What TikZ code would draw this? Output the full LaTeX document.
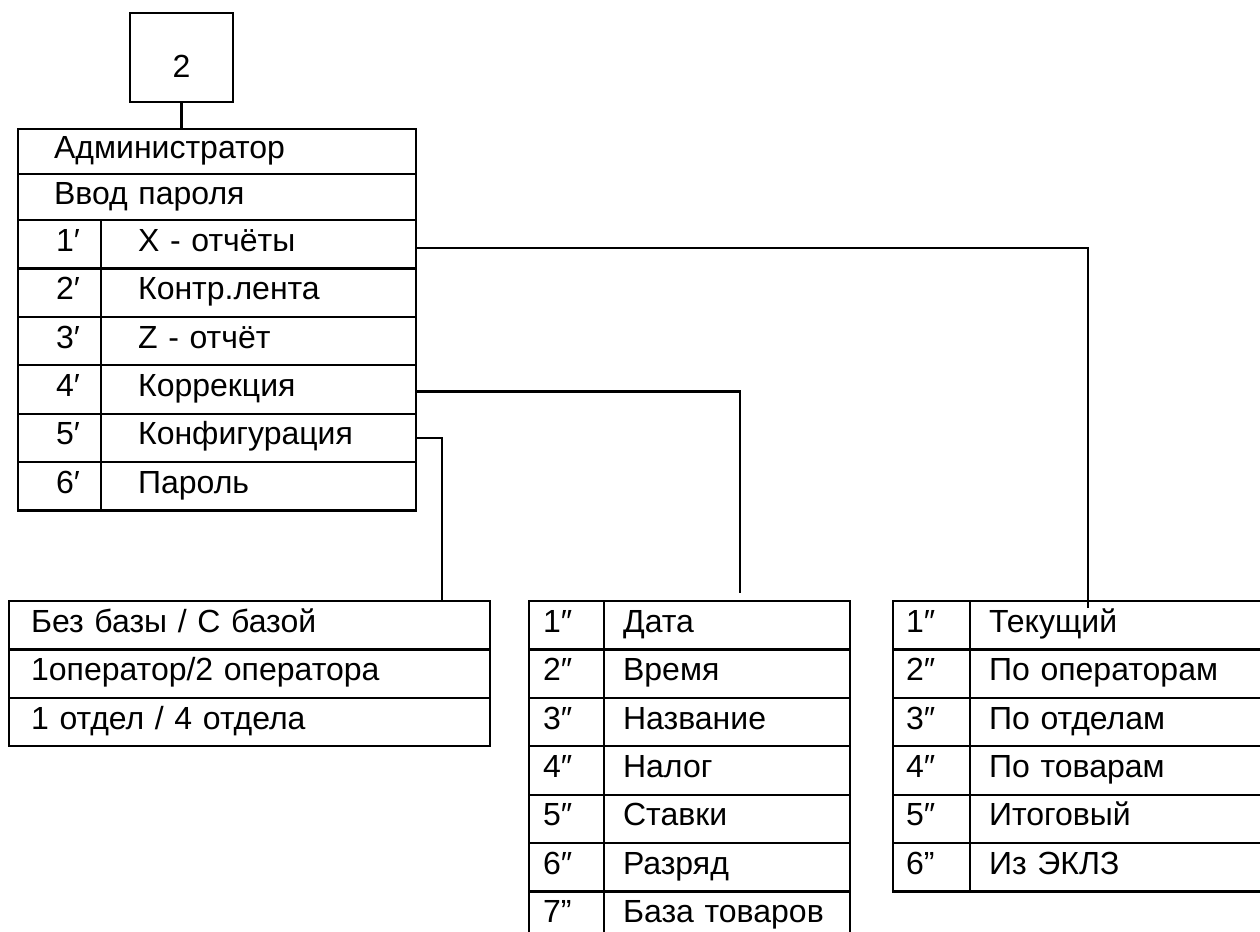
\documentclass[tikz,border=0pt]{standalone}
\usepackage{fontspec}
\setmainfont{Liberation Sans}

\begin{document}
\begin{tikzpicture}
	[x=0.5pt, y=-0.5pt, line width=1.1pt,
	 every node/.style={font=\fontsize{16pt}{18pt}\selectfont},
	 cell/.style 2 args={draw, anchor=north west, inner xsep=0pt, inner ysep=0pt,
	   text width=#1, align=left, minimum height=24.2pt,
	   text height=11pt, text depth=4pt, execute at begin node={\hspace*{#2}}}]
	\useasboundingbox (0,0) rectangle (1260,932);
	\clip (0,0) rectangle (1260,932);
	% Режим администратора
	\node[draw, minimum width=51.5pt, minimum height=44.5pt, inner sep=0pt, text height=21pt, text depth=1.5pt] (box2) at (181.5,57.5) {2};
	\node[cell={199pt}{18pt}, minimum height=22.5pt] (adm1) at (17,128) {Администратор};
	\node[cell={199pt}{18pt}, minimum height=23pt] (adm2) at (17,173) {Ввод пароля};
	\node[cell={41.5pt}{19pt}] (adm3n) at (17,219) {1′};
	\node[cell={157.5pt}{18.5pt}] (adm3t) at (100,219) {X - отчёты};
	\node[cell={41.5pt}{19pt}] (adm4n) at (17,267.4) {2′};
	\node[cell={157.5pt}{18.5pt}] (adm4t) at (100,267.4) {Контр.лента};
	\node[cell={41.5pt}{19pt}] (adm5n) at (17,315.8) {3′};
	\node[cell={157.5pt}{18.5pt}] (adm5t) at (100,315.8) {Z - отчёт};
	\node[cell={41.5pt}{19pt}] (adm6n) at (17,364.2) {4′};
	\node[cell={157.5pt}{18.5pt}] (adm6t) at (100,364.2) {Коррекция};
	\node[cell={41.5pt}{19pt}] (adm7n) at (17,412.6) {5′};
	\node[cell={157.5pt}{18.5pt}] (adm7t) at (100,412.6) {Конфигурация};
	\node[cell={41.5pt}{19pt}] (adm8n) at (17,461) {6′};
	\node[cell={157.5pt}{18.5pt}] (adm8t) at (100,461) {Пароль};
	% Конфигурация
	\node[cell={240.5pt}{11pt}] (cfg1) at (8,600) {Без базы / С базой};
	\node[cell={240.5pt}{11pt}] (cfg2) at (8,648.4) {1оператор/2 оператора};
	\node[cell={240.5pt}{11pt}] (cfg3) at (8,696.8) {1 отдел / 4 отдела};
	% Коррекция
	\node[cell={37.5pt}{7pt}] (cor1n) at (528,600) {1″};
	\node[cell={123pt}{9.5pt}] (cor1t) at (603,600) {Дата};
	\node[cell={37.5pt}{7pt}] (cor2n) at (528,648.4) {2″};
	\node[cell={123pt}{9.5pt}] (cor2t) at (603,648.4) {Время};
	\node[cell={37.5pt}{7pt}] (cor3n) at (528,696.8) {3″};
	\node[cell={123pt}{9.5pt}] (cor3t) at (603,696.8) {Название};
	\node[cell={37.5pt}{7pt}] (cor4n) at (528,745.2) {4″};
	\node[cell={123pt}{9.5pt}] (cor4t) at (603,745.2) {Налог};
	\node[cell={37.5pt}{7pt}] (cor5n) at (528,793.6) {5″};
	\node[cell={123pt}{9.5pt}] (cor5t) at (603,793.6) {Ставки};
	\node[cell={37.5pt}{7pt}] (cor6n) at (528,842) {6″};
	\node[cell={123pt}{9.5pt}] (cor6t) at (603,842) {Разряд};
	\node[cell={37.5pt}{7pt}] (cor7n) at (528,890.4) {7”};
	\node[cell={123pt}{9.5pt}] (cor7t) at (603,890.4) {База товаров};
	% X - отчёты
	\node[cell={38.5pt}{6.5pt}] (xr1n) at (892,600) {1″};
	\node[cell={149.5pt}{9.5pt}] (xr1t) at (969,600) {Текущий};
	\node[cell={38.5pt}{6.5pt}] (xr2n) at (892,648.4) {2″};
	\node[cell={149.5pt}{9.5pt}] (xr2t) at (969,648.4) {По операторам};
	\node[cell={38.5pt}{6.5pt}] (xr3n) at (892,696.8) {3″};
	\node[cell={149.5pt}{9.5pt}] (xr3t) at (969,696.8) {По отделам};
	\node[cell={38.5pt}{6.5pt}] (xr4n) at (892,745.2) {4″};
	\node[cell={149.5pt}{9.5pt}] (xr4t) at (969,745.2) {По товарам};
	\node[cell={38.5pt}{6.5pt}] (xr5n) at (892,793.6) {5″};
	\node[cell={149.5pt}{9.5pt}] (xr5t) at (969,793.6) {Итоговый};
	\node[cell={38.5pt}{6.5pt}] (xr6n) at (892,842) {6”};
	\node[cell={149.5pt}{9.5pt}] (xr6t) at (969,842) {Из ЭКЛЗ};
	% связи
	\coordinate (xend) at (1088,608);
	\coordinate (corend) at (740,593);
	\coordinate (cfgend) at (442,600);
	\draw (box2.south) -- (box2.south |- adm1.north);
	\draw ([yshift=-2pt]adm3t.east) -| (xend);
	\draw ([yshift=-1pt]adm6t.east) -| (corend);
	\draw (adm7t.east) -| (cfgend);
\end{tikzpicture}
\end{document}
